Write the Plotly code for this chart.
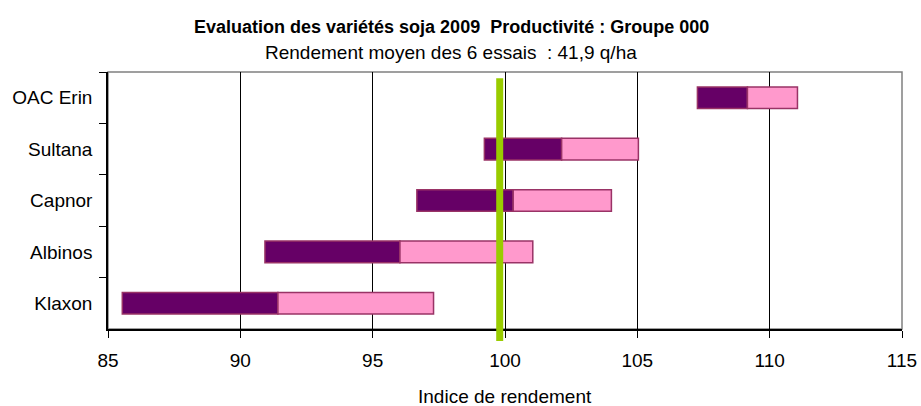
import plotly.graph_objects as go

varieties = ["OAC Erin", "Sultana", "Capnor", "Albinos", "Klaxon"]
idx_min = [107.27, 99.22, 96.67, 90.93, 85.54]
idx_mean = [109.16, 102.14, 100.31, 96.03, 91.42]
idx_max = [111.05, 105.04, 104.02, 101.05, 97.30]
reference_index = 99.8

title_text = "Evaluation des variétés soja 2009  Productivité : Groupe 000"
subtitle_text = "Rendement moyen des 6 essais  : 41,9 q/ha"
x_title = "Indice de rendement"
x_ticks = [85, 90, 95, 100, 105, 110, 115]

FONT = "Liberation Sans, Arial, sans-serif"
edge = "#993366"

fig = go.Figure()
fig.add_trace(go.Bar(
    y=varieties, x=[m - lo for m, lo in zip(idx_mean, idx_min)], base=idx_min,
    orientation="h", width=0.42,
    marker=dict(color="#660066", line=dict(color=edge, width=1.5)),
    showlegend=False, hoverinfo="skip"))
fig.add_trace(go.Bar(
    y=varieties, x=[hi - m for hi, m in zip(idx_max, idx_mean)], base=idx_mean,
    orientation="h", width=0.42,
    marker=dict(color="#FF99CC", line=dict(color=edge, width=1.5)),
    showlegend=False, hoverinfo="skip"))

# plot border (grey top/right)
fig.add_shape(type="rect", xref="paper", yref="paper", x0=0, x1=1, y0=0, y1=1,
              line=dict(color="#808080", width=1.5), layer="below")
# green reference line
fig.add_shape(type="line", xref="x", yref="paper",
              x0=reference_index, x1=reference_index, y0=-0.047, y1=0.976,
              line=dict(color="#99CC00", width=7), layer="above")

fig.add_annotation(text="<b>" + title_text + "</b>", xref="paper", yref="paper",
                   x=0.432, y=1.174, showarrow=False, xanchor="center", yanchor="middle",
                   font=dict(family=FONT, size=18, color="black"))
fig.add_annotation(text=subtitle_text, xref="paper", yref="paper",
                   x=0.432, y=1.076, showarrow=False, xanchor="center", yanchor="middle",
                   font=dict(family=FONT, size=19, color="black"))
fig.add_annotation(text=x_title, xref="paper", yref="paper",
                   x=0.5, y=-0.264, showarrow=False, xanchor="center", yanchor="middle",
                   font=dict(family=FONT, size=19, color="black"))

fig.update_layout(
    width=921, height=406,
    margin=dict(l=108, r=19, t=72, b=77),
    paper_bgcolor="white", plot_bgcolor="white",
    barmode="overlay",
    font=dict(family=FONT, size=19, color="black"),
    xaxis=dict(range=[85, 115], tickvals=x_ticks, ticktext=[str(v) for v in x_ticks],
               showgrid=True, gridcolor="#000000", gridwidth=1,
               showline=True, linecolor="black", linewidth=1.5,
               ticks="outside", ticklen=7, tickcolor="black",
               ticklabelstandoff=6, automargin=False,
               zeroline=False,
               tickfont=dict(family=FONT, size=19, color="black")),
    yaxis=dict(autorange="reversed", type="category",
               showline=True, linecolor="black", linewidth=1.5,
               ticks="outside", ticklen=7, tickcolor="black", tickson="boundaries",
               ticklabelstandoff=10, automargin=False,
               showgrid=False,
               tickfont=dict(family=FONT, size=19, color="black")),
)

fig.write_html("out.html", config={"displayModeBar": False},
               post_script="document.body.style.margin='0';")
